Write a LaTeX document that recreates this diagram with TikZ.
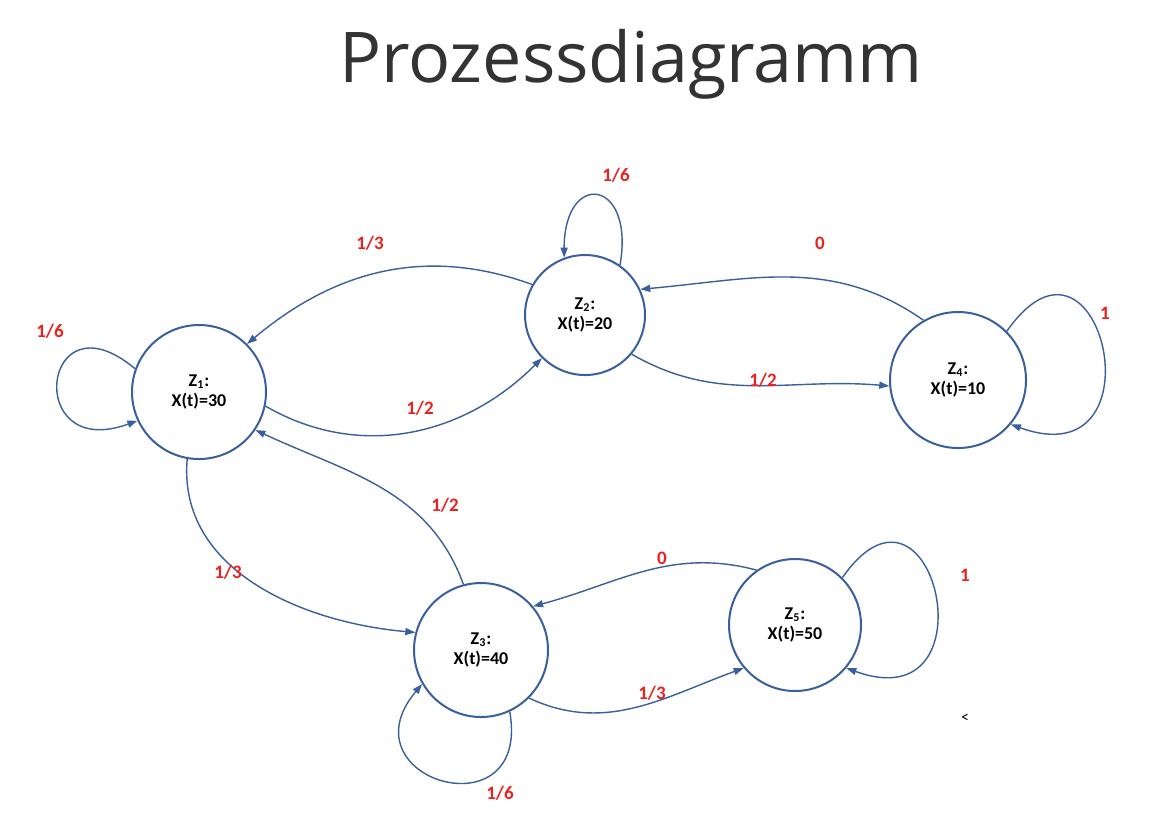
\documentclass[tikz,border=0pt]{standalone}
\usepackage{fontspec}
\setmainfont{Carlito}
\newfontfamily\titlefont{Open Sans}
\usetikzlibrary{arrows.meta}
\definecolor{edge}{HTML}{3A5F9E}
\definecolor{lab}{HTML}{E8231F}
\begin{document}
\begin{tikzpicture}[x=0.5pt,y=-0.5pt,
  st/.style={circle,draw=edge,line width=1pt,align=center,font=\bfseries\fontsize{9}{10}\selectfont,inner sep=0pt},
  ed/.style={draw=edge,line width=0.7pt,-{Triangle[length=5pt,width=3.5pt]}},
  lb/.style={text=lab,font=\bfseries\fontsize{9.5}{10}\selectfont}]
\useasboundingbox (0,0) rectangle (1170,826);
\fill[white] (0,0) rectangle (1170,826);
\node[font=\titlefont\fontsize{35}{40}\selectfont,text=black!80] (title) at (631,64) {Prozessdiagramm};
\node[st,minimum size=134pt*0.5] (z1) at (199,392) {Z\textsubscript{1}:\\X(t)=30};
\node[st,minimum size=120pt*0.5] (z2) at (585,315) {Z\textsubscript{2}:\\X(t)=20};
\node[st,minimum size=136pt*0.5] (z4) at (958,380) {Z\textsubscript{4}:\\X(t)=10};
\node[st,minimum size=134pt*0.5] (z3) at (481,650) {Z\textsubscript{3}:\\X(t)=40};
\node[st,minimum size=132pt*0.5] (z5) at (795,625) {Z\textsubscript{5}:\\X(t)=50};
% edges
\draw[ed] (z2.150) to[out=160,in=40] (z1.45);
\draw[ed] (z1.-12) to[out=-30,in=-135] (z2.-135);
\draw[ed] (z4.120) to[out=145,in=5] (z2.25);
\draw[ed] (z2.-40) to[out=-30,in=175] (z4.185);
\draw[ed] (z1.-100) to[out=-95,in=175] (z3.165);
\draw[ed] (z3.105) to[out=110,in=-25] (z1.-34);
\draw[ed] (z5.125) to[out=165,in=15] (z3.40);
\draw[ed] (z3.-45) to[out=-25,in=200] (z5.-140);
% loops
\draw[ed] (z2.55) to[out=80,in=90,looseness=4] (z2.110);
\draw[ed] (z1.160) to[out=140,in=200,looseness=6] (z1.205);
\draw[ed] (z4.45) to[out=55,in=-20,looseness=4.5] (z4.-40);
\draw[ed] (z5.45) to[out=55,in=-20,looseness=4.5] (z5.-40);
\draw[ed] (z3.-65) to[out=-80,in=-130,looseness=3.5] (z3.-150);
% labels
\node[lb] (l1) at (370,243) {1/3};
\node[lb] (l2) at (420,408) {1/2};
\node[lb] (l3) at (820,243) {0};
\node[lb] (l4) at (763,380) {1/2};
\node[lb] (l5) at (228,572) {1/3};
\node[lb] (l6) at (445,505) {1/2};
\node[lb] (l7) at (662,558) {0};
\node[lb] (l8) at (652,693) {1/3};
\node[lb] (l9) at (616,175) {1/6};
\node[lb] (l10) at (50,331) {1/6};
\node[lb] (l11) at (1105,313) {1};
\node[lb] (l12) at (965,575) {1};
\node[lb] (l13) at (500,793) {1/6};
\node[font=\fontsize{8}{9}\selectfont] (lt) at (965,718) {<};
\end{tikzpicture}
\end{document}
